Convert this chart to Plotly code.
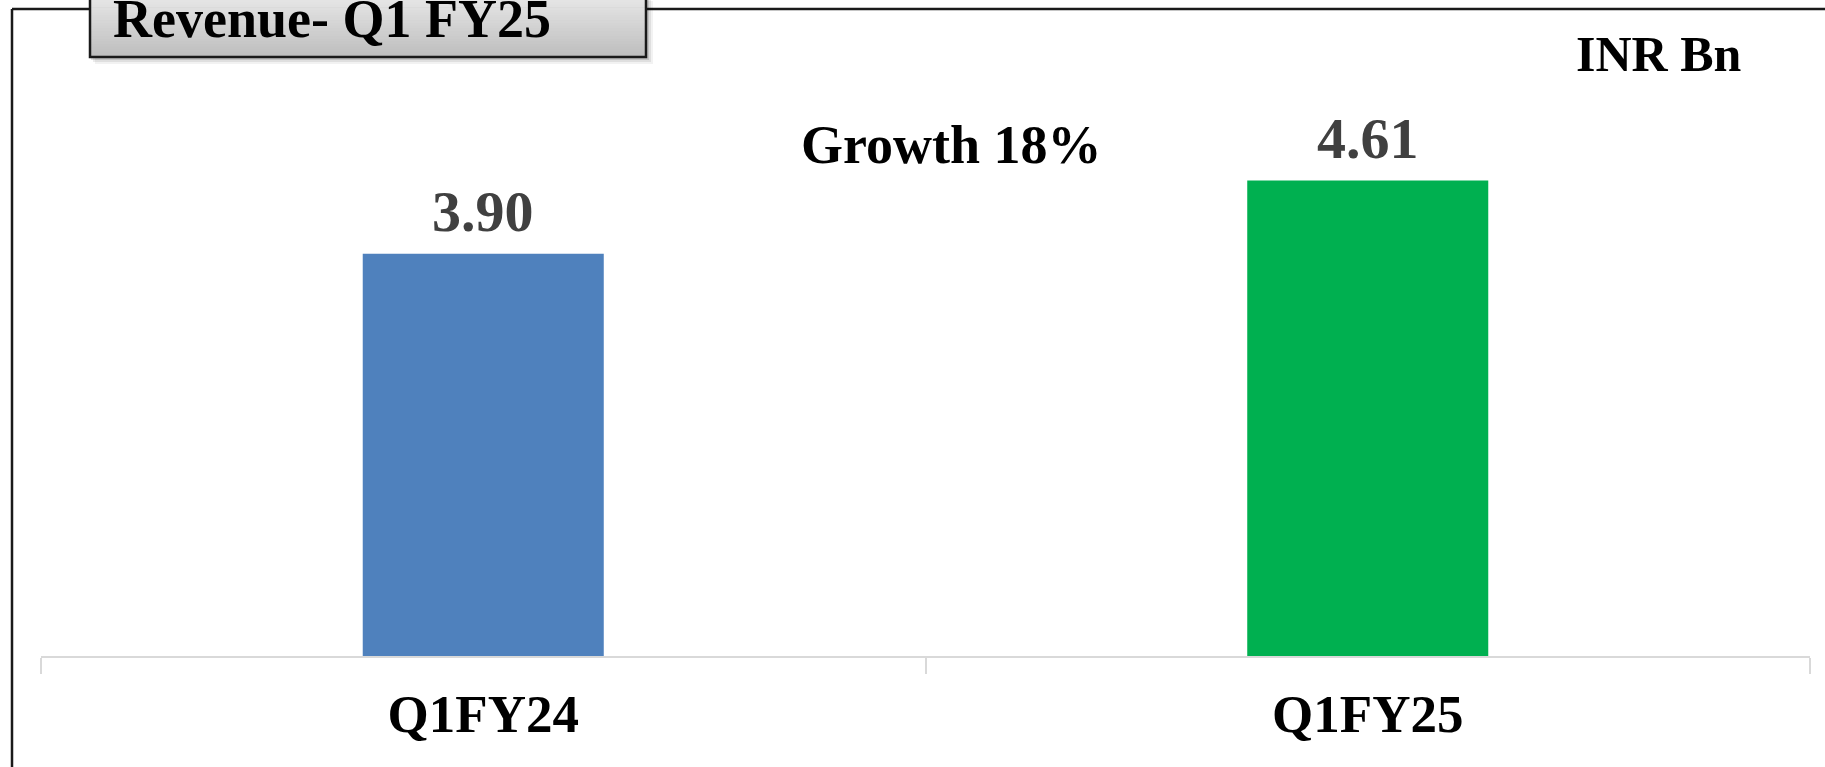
import plotly.graph_objects as go

# Revenue by quarter (INR Bn)
quarters = ["Q1FY24", "Q1FY25"]
revenue = [3.90, 4.61]
bar_colors = ["#4F81BD", "#00B050"]
title_text = "Revenue- Q1 FY25"
unit_text = "INR Bn"
growth_text = "Growth 18%"

W, H = 1825, 767
M_L, M_R, M_T, M_B = 41, 15, 37, 111
PW, PH = W - M_L - M_R, H - M_T - M_B
SERIF = "Liberation Serif"


def px_x(px):
    """Pixel column -> paper x."""
    return (px - M_L) / PW


def px_y(py):
    """Pixel row (from top) -> paper y."""
    return (H - M_B - py) / PH


fig = go.Figure(
    go.Bar(
        x=quarters,
        y=revenue,
        marker=dict(color=bar_colors, line=dict(width=0)),
        hoverinfo="skip",
    )
)

# value labels above each bar
for q, v in zip(quarters, revenue):
    fig.add_annotation(
        x=q, y=v, xref="x", yref="y",
        text=f"<b>{v:.2f}</b>", showarrow=False,
        yanchor="middle", yshift=42,
        font=dict(family=SERIF, size=58, color="#404040"),
    )

shapes = []
# outer frame (left and top edges)
frame_col = "#1a1a1a"
shapes.append(dict(type="line", xref="paper", yref="paper",
                   x0=px_x(12), x1=px_x(12), y0=px_y(9), y1=px_y(H + 5),
                   line=dict(color=frame_col, width=2.5)))
shapes.append(dict(type="line", xref="paper", yref="paper",
                   x0=px_x(12), x1=px_x(W + 5), y0=px_y(9), y1=px_y(9),
                   line=dict(color=frame_col, width=2.5)))

# title box: soft shadow, vertical grey gradient, dark border
bx0, bx1, by0, by1 = 90, 646, -6, 57
for off, alpha in [(7, 0.05), (5, 0.08), (3, 0.12)]:
    shapes.append(dict(type="rect", xref="paper", yref="paper",
                       x0=px_x(bx0 + off - 2), x1=px_x(bx1 + off), y0=px_y(by0 + off),
                       y1=px_y(by1 + off), line=dict(width=0),
                       fillcolor=f"rgba(0,0,0,{alpha})"))
n_strips = 24
top_rgb, bot_rgb = (232, 232, 232), (190, 190, 190)
for i in range(n_strips):
    t = i / (n_strips - 1)
    c = tuple(round(a + (b - a) * t) for a, b in zip(top_rgb, bot_rgb))
    ya = by0 + (by1 - by0) * i / n_strips
    yb = by0 + (by1 - by0) * (i + 1) / n_strips + 0.6
    shapes.append(dict(type="rect", xref="paper", yref="paper",
                       x0=px_x(bx0), x1=px_x(bx1), y0=px_y(ya), y1=px_y(yb),
                       line=dict(width=0), fillcolor=f"rgb{c}"))
shapes.append(dict(type="rect", xref="paper", yref="paper",
                   x0=px_x(bx0), x1=px_x(bx1), y0=px_y(by0), y1=px_y(by1),
                   line=dict(color=frame_col, width=2.5), fillcolor="rgba(0,0,0,0)"))

fig.add_annotation(
    xref="paper", yref="paper", x=px_x(111), y=px_y(19),
    text=f"<b>{title_text}</b>", showarrow=False, xanchor="left", yanchor="middle",
    font=dict(family=SERIF, size=54, color="#000000"),
)
fig.add_annotation(
    xref="paper", yref="paper", x=px_x(1659), y=px_y(54),
    text=f"<b>{unit_text}</b>", showarrow=False, xanchor="center", yanchor="middle",
    font=dict(family=SERIF, size=50, color="#000000"),
)
fig.add_annotation(
    xref="paper", yref="paper", x=px_x(951), y=px_y(145),
    text=f"<b>{growth_text}</b>", showarrow=False, xanchor="center", yanchor="middle",
    font=dict(family=SERIF, size=54, color="#000000"),
)

fig.update_layout(
    width=W, height=H,
    margin=dict(l=M_L, r=M_R, t=M_T, b=M_B, pad=0),
    paper_bgcolor="white", plot_bgcolor="white",
    showlegend=False,
    bargap=0.7275,
    shapes=shapes,
    xaxis=dict(
        type="category",
        showline=True, linecolor="#d9d9d9", linewidth=2,
        ticks="outside", tickson="boundaries", ticklen=16,
        tickcolor="#d9d9d9", tickwidth=2,
        showgrid=False, zeroline=False,
        tickfont=dict(family=SERIF, size=53, color="#000000", weight="bold"),
        ticklabelstandoff=10,
        automargin=False, fixedrange=True,
    ),
    yaxis=dict(
        range=[0, 6.0], visible=False, showgrid=False, zeroline=False,
        automargin=False, fixedrange=True,
    ),
)

fig.write_html("out.html", config={"displayModeBar": False})
